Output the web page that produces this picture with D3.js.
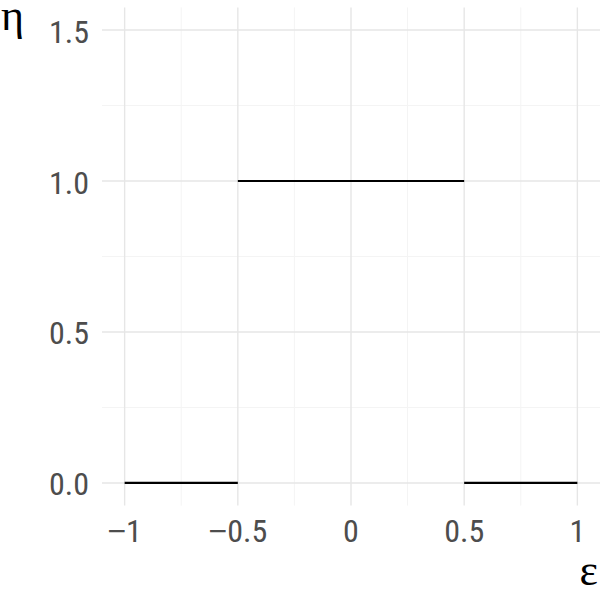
<!DOCTYPE html>
<html>
<head>
<meta charset="utf-8">
<script src="https://cdn.jsdelivr.net/npm/d3@7"></script>
<style>
  body { margin: 0; background: #fff; }
  .tick-label { font-family: "Roboto Condensed", "Liberation Sans Narrow", Roboto, sans-serif; fill: #4d4d4d; }
  .minus { font-family: "Liberation Sans", sans-serif; }
  .axis-title { font-family: "Liberation Serif", "DejaVu Serif", serif; fill: #000; }
</style>
</head>
<body>
<div id="chart"></div>
<script>
// step function segments: eta(eps)
const segX0 = [-1, -0.5, 0.5];
const segX1 = [-0.5, 0.5, 1];
const segY = [0, 1, 0];

const xTicks = [-1, -0.5, 0, 0.5, 1];
const xTickLabels = ["\u22121", "\u22120.5", "0", "0.5", "1"];
const xMinor = [-0.75, -0.25, 0.25, 0.75];
const yTicks = [0, 0.5, 1, 1.5];
const yTickLabels = ["0.0", "0.5", "1.0", "1.5"];
const yMinor = [0.25, 0.75, 1.25];

const svgWidth = 600, svgHeight = 600;
const margin = { top: 7.4, right: 0, bottom: 94.4, left: 102 };
const width = svgWidth - margin.left - margin.right;
const height = svgHeight - margin.top - margin.bottom;

const svg = d3.select("#chart").append("svg")
  .attr("width", svgWidth)
  .attr("height", svgHeight);

const g = svg.append("g")
  .attr("transform", `translate(${margin.left}, ${margin.top})`);

// ggplot-style 5% expansion
const x = d3.scaleLinear().domain([-1.1, 1.1]).range([0, width]);
const y = d3.scaleLinear().domain([-0.075, 1.575]).range([height, 0]);

// minor grid
g.selectAll(".xminor").data(xMinor).enter().append("line")
  .attr("x1", d => x(d)).attr("x2", d => x(d))
  .attr("y1", 0).attr("y2", height)
  .attr("stroke", "#f4f4f4").attr("stroke-width", 1);
g.selectAll(".yminor").data(yMinor).enter().append("line")
  .attr("y1", d => y(d)).attr("y2", d => y(d))
  .attr("x1", 0).attr("x2", width)
  .attr("stroke", "#f4f4f4").attr("stroke-width", 1);

// major grid
g.selectAll(".xmajor").data(xTicks).enter().append("line")
  .attr("x1", d => x(d)).attr("x2", d => x(d))
  .attr("y1", 0).attr("y2", height)
  .attr("stroke", "#e6e6e6").attr("stroke-width", 1.4);
g.selectAll(".ymajor").data(yTicks).enter().append("line")
  .attr("y1", d => y(d)).attr("y2", d => y(d))
  .attr("x1", 0).attr("x2", width)
  .attr("stroke", "#e6e6e6").attr("stroke-width", 1.4);

// segments
g.selectAll(".seg").data(segY).enter().append("line")
  .attr("x1", (d, i) => x(segX0[i]))
  .attr("x2", (d, i) => x(segX1[i]))
  .attr("y1", d => y(d))
  .attr("y2", d => y(d))
  .attr("stroke", "#000")
  .attr("stroke-width", 2.2);

// tick labels (minus sign drawn in a wider font, like the original)
const xl = g.selectAll(".xlab").data(xTicks).enter().append("text")
  .attr("class", "tick-label")
  .attr("x", d => x(d))
  .attr("y", height + 36.5)
  .attr("text-anchor", "middle")
  .attr("font-size", 32);
xl.each(function (d, i) {
  const lab = xTickLabels[i];
  const t = d3.select(this);
  if (lab[0] === "\u2212") {
    t.append("tspan").attr("class", "minus").text("\u2212");
    t.append("tspan").text(lab.slice(1));
  } else {
    t.text(lab);
  }
});

g.selectAll(".ylab").data(yTicks).enter().append("text")
  .attr("class", "tick-label")
  .attr("x", -13)
  .attr("y", d => y(d) + 12.5)
  .attr("text-anchor", "end")
  .attr("font-size", 32)
  .text((d, i) => yTickLabels[i]);

// axis titles
svg.append("text")
  .attr("class", "axis-title")
  .attr("x", 1)
  .attr("y", 30)
  .attr("font-size", 44)
  .text("\u03b7");

svg.append("text")
  .attr("class", "axis-title")
  .attr("x", 598)
  .attr("y", 585)
  .attr("text-anchor", "end")
  .attr("font-size", 44)
  .text("\u03b5");
</script>
</body>
</html>
